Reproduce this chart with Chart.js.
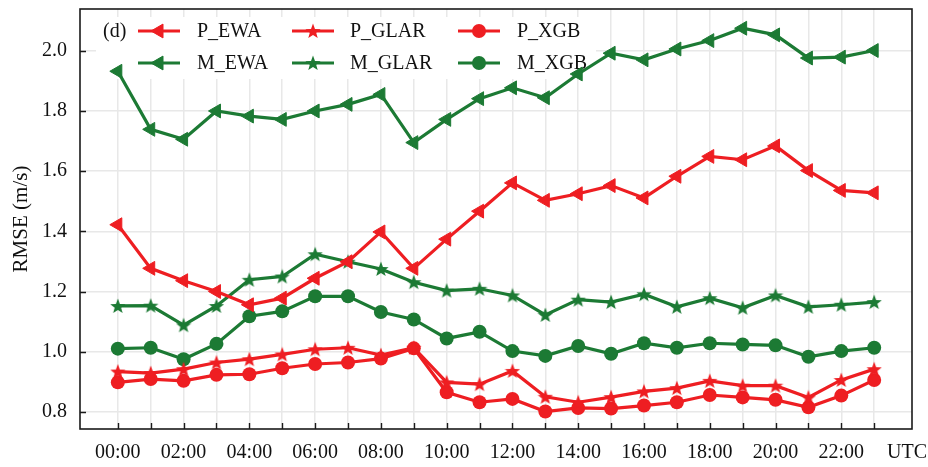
<!DOCTYPE html>
<html>
<head>
<meta charset="utf-8">
<script src="https://cdn.jsdelivr.net/npm/chart.js@4/dist/chart.umd.min.js"></script>
<style>
  html, body { margin: 0; padding: 0; background: #fff; }
  canvas { display: block; }
</style>
</head>
<body>
<canvas id="c" width="928" height="467"></canvas>
<script>
// Hour of day (UTC) and its axis labels
const HOURS = [0,1,2,3,4,5,6,7,8,9,10,11,12,13,14,15,16,17,18,19,20,21,22,23];
const HOUR_LABELS = ['00:00','01:00','02:00','03:00','04:00','05:00','06:00','07:00',
  '08:00','09:00','10:00','11:00','12:00','13:00','14:00','15:00','16:00','17:00',
  '18:00','19:00','20:00','21:00','22:00','23:00'];
const UNIT_LABEL = 'UTC';
const Y_TICKS = [0.8, 1.0, 1.2, 1.4, 1.6, 1.8, 2.0];
const PANEL_TAG = '(d)';

// RMSE (m/s) per hour
const P_EWA  = [1.422,1.277,1.236,1.200,1.156,1.178,1.244,1.299,1.398,1.277,1.374,1.467,
                1.561,1.503,1.525,1.552,1.511,1.583,1.649,1.638,1.684,1.602,1.536,1.528];
const P_GLAR = [0.934,0.929,0.942,0.964,0.975,0.991,1.008,1.013,0.989,1.013,0.898,0.892,
                0.936,0.850,0.832,0.849,0.868,0.879,0.903,0.887,0.887,0.848,0.906,0.942];
const P_XGB  = [0.898,0.909,0.903,0.923,0.925,0.945,0.959,0.964,0.977,1.011,0.865,0.832,
                0.843,0.801,0.813,0.811,0.821,0.832,0.856,0.848,0.840,0.815,0.854,0.906];
const M_EWA  = [1.932,1.739,1.706,1.800,1.783,1.772,1.800,1.822,1.855,1.695,1.772,1.841,
                1.877,1.844,1.923,1.992,1.970,2.006,2.034,2.075,2.053,1.976,1.979,2.001];
const M_GLAR = [1.152,1.153,1.088,1.152,1.239,1.250,1.324,1.299,1.275,1.231,1.203,1.209,
                1.187,1.122,1.173,1.165,1.191,1.149,1.178,1.146,1.187,1.149,1.156,1.165];
const M_XGB  = [1.010,1.013,0.975,1.026,1.118,1.134,1.184,1.184,1.132,1.107,1.044,1.066,
                1.002,0.986,1.019,0.993,1.028,1.013,1.028,1.024,1.021,0.983,1.002,1.013];

const RED = 'rgb(238,30,34)';
const GREEN = 'rgb(28,122,52)';
const FONT = 'Liberation Serif';

// Filled five-pointed star used as a point style
function makeStar(color, size) {
  const c = document.createElement('canvas');
  c.width = size; c.height = size;
  const g = c.getContext('2d');
  const cx = size / 2, cy = size / 2 + 0.6, ro = size / 2, ri = ro * 0.42;
  g.beginPath();
  for (let k = 0; k < 10; k++) {
    const r = k % 2 === 0 ? ro : ri;
    const a = -Math.PI / 2 + k * Math.PI / 5;
    const px = cx + r * Math.cos(a), py = cy + r * Math.sin(a);
    if (k === 0) g.moveTo(px, py); else g.lineTo(px, py);
  }
  g.closePath();
  g.fillStyle = color;
  g.fill();
  return c;
}

const toPoints = arr => HOURS.map((h, i) => ({ x: h, y: arr[i] }));

function series(label, values, color, kind) {
  const ds = {
    label, data: toPoints(values),
    borderColor: color, backgroundColor: color,
    borderWidth: 3.2, pointBorderWidth: 0, tension: 0
  };
  if (kind === 'tri') { ds.pointStyle = 'triangle'; ds.pointRotation = -90; ds.pointRadius = 8; ds.pointBorderWidth = 1; ds.pointBorderColor = color; }
  if (kind === 'star') { ds.pointStyle = makeStar(color, 16); ds.pointRadius = 7; }
  if (kind === 'dot') { ds.pointStyle = 'circle'; ds.pointRadius = 7; }
  return ds;
}

const datasets = [
  series('P_EWA', P_EWA, RED, 'tri'),
  series('P_GLAR', P_GLAR, RED, 'star'),
  series('P_XGB', P_XGB, RED, 'dot'),
  series('M_EWA', M_EWA, GREEN, 'tri'),
  series('M_GLAR', M_GLAR, GREEN, 'star'),
  series('M_XGB', M_XGB, GREEN, 'dot')
];

// In-plot legend with a white backing box, drawn under the data lines
const legendBox = {
  id: 'legendBox',
  beforeDatasetsDraw(chart) {
    const ctx = chart.ctx;
    ctx.save();
    ctx.fillStyle = '#fff';
    ctx.fillRect(96, 17, 500, 62);
    ctx.font = '20px "' + FONT + '"';
    ctx.fillStyle = '#111';
    ctx.textBaseline = 'middle';
    ctx.fillText(PANEL_TAG, 103, 32);
    const colLine = [138, 292, 458];
    const colText = [197, 350, 517];
    const rowY = [31, 63];
    chart.data.datasets.forEach((ds, i) => {
      const col = i % 3, row = Math.floor(i / 3);
      const x0 = colLine[col], x1 = x0 + 42, y = rowY[row];
      ctx.strokeStyle = ds.borderColor;
      ctx.lineWidth = 3.2;
      ctx.beginPath(); ctx.moveTo(x0, y); ctx.lineTo(x1, y); ctx.stroke();
      ctx.fillStyle = ds.backgroundColor;
      ctx.lineWidth = ds.pointBorderWidth || 0;
      Chart.helpers.drawPoint(ctx, {
        pointStyle: ds.pointStyle, rotation: ds.pointRotation || 0,
        radius: ds.pointRadius, borderWidth: ds.pointBorderWidth || 0
      }, (x0 + x1) / 2, y);
      ctx.fillStyle = '#111';
      ctx.fillText(ds.label, colText[col], y + 1);
    });
    ctx.restore();
  }
};

// Plot frame and inward tick marks
const frame = {
  id: 'frame',
  afterDraw(chart) {
    const { ctx, chartArea: a, scales } = chart;
    ctx.save();
    ctx.strokeStyle = '#1a1a1a';
    ctx.lineWidth = 1.6;
    ctx.strokeRect(a.left, a.top, a.right - a.left, a.bottom - a.top);
    ctx.lineWidth = 1.4;
    ctx.beginPath();
    Y_TICKS.forEach(v => {
      const y = Math.round(scales.y.getPixelForValue(v)) + 0.5;
      ctx.moveTo(a.left, y); ctx.lineTo(a.left + 6, y);
    });
    HOURS.forEach(h => {
      const x = Math.round(scales.x.getPixelForValue(h)) + 0.5;
      ctx.moveTo(x, a.bottom); ctx.lineTo(x, a.bottom - 6);
    });
    ctx.stroke();
    ctx.restore();
  }
};

new Chart(document.getElementById('c'), {
  type: 'line',
  data: { datasets },
  options: {
    responsive: false,
    animation: false,
    layout: { padding: { top: 6, right: 16, left: 0, bottom: 0 } },
    plugins: { legend: { display: false }, tooltip: { enabled: false } },
    scales: {
      x: {
        type: 'linear', min: -1.15, max: 24.15,
        afterBuildTicks: s => { s.ticks = HOURS.concat([24]).map(v => ({ value: v })); },
        afterFit: s => { s.height = 38; s.paddingLeft = 0; s.paddingRight = 0; },
        border: { display: false },
        grid: {
          drawTicks: false, lineWidth: 1.5,
          color: c => (c.tick && c.tick.value === 24) ? 'rgba(0,0,0,0)' : '#e8e8e8'
        },
        ticks: {
          autoSkip: false, maxRotation: 0, padding: 12, color: '#111',
          font: { family: FONT, size: 20 },
          callback: v => v === 24 ? UNIT_LABEL : (v % 2 === 0 ? HOUR_LABELS[v] : '')
        }
      },
      y: {
        type: 'linear', min: 0.743, max: 2.139,
        afterBuildTicks: s => { s.ticks = Y_TICKS.map(v => ({ value: v })); },
        afterFit: s => { s.width = 80; s.paddingTop = 0; s.paddingBottom = 0; },
        border: { display: false },
        grid: { drawTicks: false, lineWidth: 1.5, color: '#e8e8e8' },
        ticks: {
          padding: 13, color: '#111',
          font: { family: FONT, size: 20 },
          callback: v => v.toFixed(1)
        },
        title: {
          display: true, text: 'RMSE (m/s)', color: '#111',
          font: { family: FONT, size: 21 }, padding: { top: 9, bottom: 0 }
        }
      }
    }
  },
  plugins: [legendBox, frame]
});
</script>
</body>
</html>
